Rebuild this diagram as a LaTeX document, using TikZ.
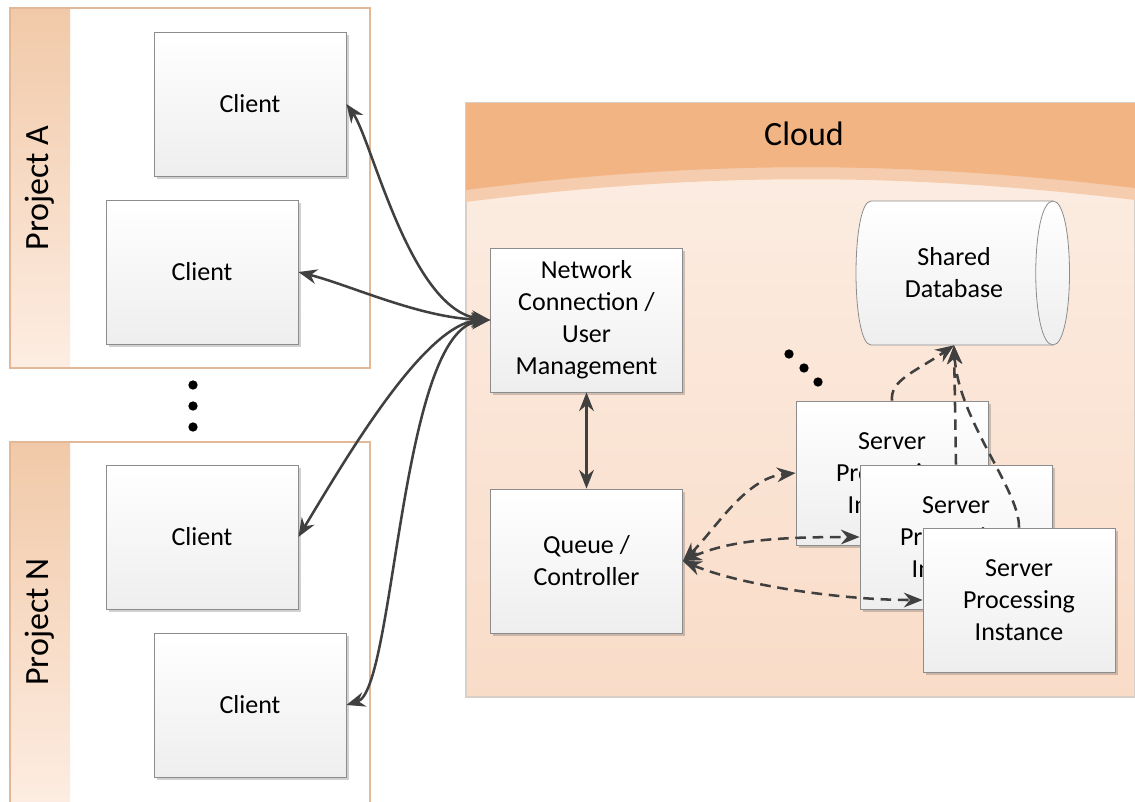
\documentclass[tikz,border=0pt]{standalone}
\usepackage{fontspec}
\setmainfont{Carlito}
\usetikzlibrary{arrows.meta,shadows}
\definecolor{hdr}{HTML}{F2B483}
\definecolor{hdrband}{HTML}{F5CDAE}
\definecolor{cloudtop}{HTML}{FCEEE4}
\definecolor{cloudbot}{HTML}{F9DCC8}
\definecolor{cloudline}{HTML}{D8CFC8}
\definecolor{bandtop}{HTML}{F1C9A8}
\definecolor{bandbot}{HTML}{FDEDE2}
\definecolor{frameline}{HTML}{E3B896}
\definecolor{boxline}{HTML}{8C8C8C}
\definecolor{boxbot}{HTML}{EEEEEE}
\definecolor{linec}{HTML}{404040}
\begin{document}
\begin{tikzpicture}[x=0.75pt,y=-0.75pt,
  box/.style={draw=boxline, line width=0.6pt, top color=white, bottom color=boxbot,
    minimum width=144pt, minimum height=108pt, align=center, inner sep=2pt,
    font=\fontsize{19.5}{24}\selectfont,
    drop shadow={shadow xshift=2pt, shadow yshift=-2pt, fill=black, opacity=0.18}},
  projlabel/.style={rotate=90, font=\fontsize{25.5}{30}\selectfont},
  frame/.style={draw=frameline, line width=0.8pt},
  conn/.style={draw=linec, line width=1.9pt,
    {Stealth[length=14pt,width=11pt]}-{Stealth[length=14pt,width=11pt]}},
  dconn/.style={draw=linec, line width=1.9pt, dash pattern=on 8pt off 5pt,
    {Stealth[length=14pt,width=11pt]}-{Stealth[length=14pt,width=11pt]}},
  dlink/.style={draw=linec, line width=1.9pt, dash pattern=on 8pt off 5pt,
    -{Stealth[length=14pt,width=11pt]}},
  dot/.style={fill=black, circle, inner sep=0pt, minimum size=7pt}]
\useasboundingbox (0,0) rectangle (1135,801);
\begin{scope}
\clip (0,0) rectangle (1135,801);
% ---------- Project A ----------
\fill[white] (10,8) rectangle (370,368);
\shade[top color=bandtop, bottom color=bandbot] (10,8) rectangle (70,368);
\draw[frame] (10,8) rectangle (370,368);
\node[projlabel] (pa) at (40,188) {Project A};
% ---------- Project N ----------
\fill[white] (10,442) rectangle (370,810);
\shade[top color=bandtop, bottom color=bandbot] (10,442) rectangle (70,810);
\draw[frame] (10,442) rectangle (370,810);
\node[projlabel] (pn) at (40,622) {Project N};
% vertical dots
\node[dot] (v1) at (193,385) {};
\node[dot] (v2) at (193,406) {};
\node[dot] (v3) at (193,427) {};
% ---------- Cloud ----------
\shade[top color=cloudtop, bottom color=cloudbot] (466,103) rectangle (1135,697);
\draw[cloudline, line width=0.8pt] (466,103) rectangle (1134.5,697);
\fill[hdrband] (466,103) -- (1135,103) -- (1135,200)
  .. controls (900,172) and (700,172) .. (466,202) -- cycle;
\fill[hdr] (466,103) -- (1135,103) -- (1135,188)
  .. controls (900,160) and (700,160) .. (466,190) -- cycle;
\node[font=\fontsize{25.5}{30}\selectfont] (cloud) at (804,134) {Cloud};
% ---------- Clients ----------
\node[box] (c1) at (250,104) {Client};
\node[box] (c2) at (202,272) {Client};
\node[box] (c3) at (202,537) {Client};
\node[box] (c4) at (250,705) {Client};
% ---------- Cloud contents ----------
\node[box] (net) at (586.5,320) {Network\\Connection /\\User\\Management};
\node[box] (queue) at (586.5,561) {Queue /\\Controller};
% database cylinder
\shade[top color=white, bottom color=boxbot, draw=boxline, line width=0.6pt]
  (871,201) -- (1053,201) .. controls (1075,201) and (1075,345) .. (1053,345)
  -- (871,345) .. controls (851,345) and (851,201) .. (871,201) -- cycle;
\draw[boxline, line width=0.6pt] (1053,201) .. controls (1030,201) and (1030,345) .. (1053,345);
\node[align=center, font=\fontsize{19.5}{24}\selectfont, minimum width=135pt, minimum height=108pt] (db) at (954,273) {Shared\\Database};
% diagonal dots
\node[dot] (d1) at (789,354) {};
\node[dot] (d2) at (804,368) {};
\node[dot] (d3) at (818,382) {};
% servers
\node[box] (s1) at (892,473) {Server\\Processing\\Instance};
\node[box] (s2) at (956,537) {Server\\Processing\\Instance};
\node[box] (s3) at (1019,600) {Server\\Processing\\Instance};
% ---------- Connectors ----------
\draw[conn] (net.west) .. controls (410,310) and (372,140) .. (c1.east);
\draw[conn] (net.west) .. controls (420,318) and (350,285) .. (c2.east);
\draw[conn] (net.west) .. controls (425,322) and (345,460) .. (c3.east);
\draw[conn] (net.west) .. controls (400,330) and (395,690) .. (c4.east);
\draw[conn] (net.south) -- (queue.north);
\draw[dconn] (queue.east) .. controls (715,530) and (745,478) .. (s1.west);
\draw[dconn] (queue.east) .. controls (730,540) and (780,537) .. (s2.west);
\draw[dconn] (queue.east) .. controls (740,585) and (840,600) .. (s3.west);
\draw[dlink] (s1.north) .. controls (890,380) and (915,372) .. (db.south);
\draw[dlink] (s2.north) -- (db.south);
\draw[dlink] (s3.north) .. controls (1020,490) and (958,420) .. (db.south);
\end{scope}
\end{tikzpicture}
\end{document}
